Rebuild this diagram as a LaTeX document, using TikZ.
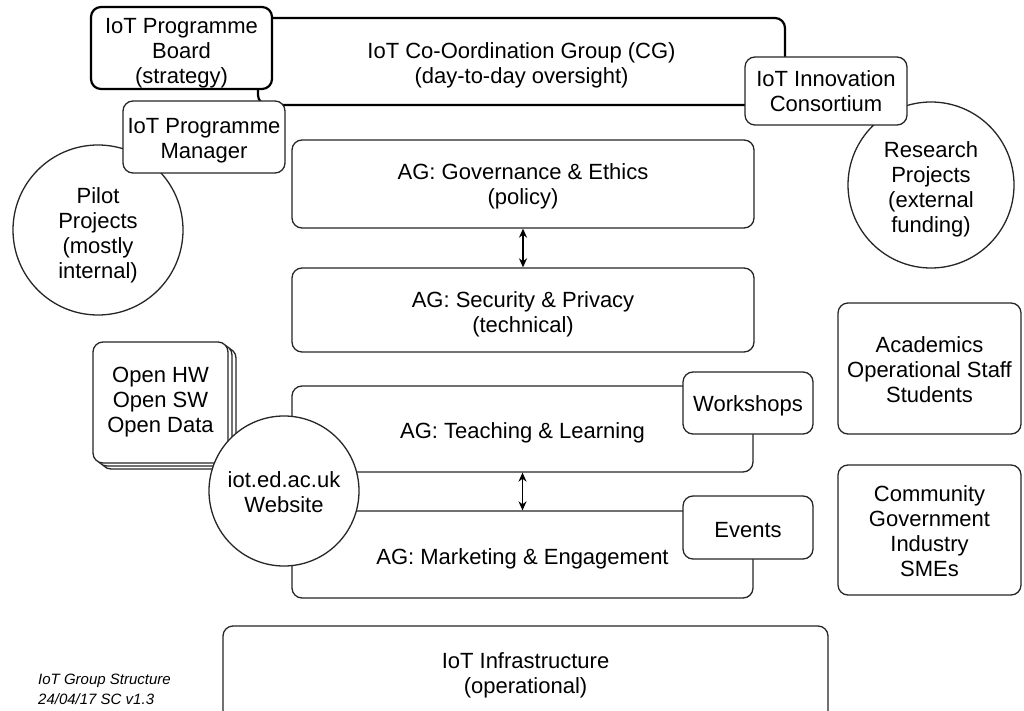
\documentclass[tikz,border=0pt]{standalone}
\usepackage{fontspec}
\setmainfont{Liberation Sans}
\usetikzlibrary{arrows.meta}
\newcommand{\tdown}[1]{\rule{0pt}{#1}}
\begin{document}
\begin{tikzpicture}[x=1pt,y=-1pt,
 box/.style={draw=black!85, fill=white, line width=1.3pt, rounded corners=10pt, align=center, inner sep=0pt, font=\fontsize{22}{25}\selectfont},
 thickbox/.style={box, line width=2.2pt, draw=black},
 circ/.style={draw=black!85, fill=white, line width=1.3pt, circle, align=center, inner sep=0pt, font=\fontsize{22}{25}\selectfont},
 dbl/.style={{Stealth[length=9pt,width=8pt]}-{Stealth[length=9pt,width=8pt]}, line width=1.5pt},
 note/.style={font=\fontsize{15}{20}\selectfont\itshape, align=left, anchor=west, inner sep=0pt}
]
\useasboundingbox[fill=white] (0,0) rectangle (1024,711);
\clip (0,0) rectangle (1024,711);

% top group
\node[thickbox, minimum width=527pt, minimum height=87pt] (cg) at (521.5,61.5) {\tdown{24pt}IoT Co-Oordination Group (CG)\\(day-to-day oversight)};
\node[thickbox, minimum width=181pt, minimum height=82pt] (board) at (181.5,48) {\tdown{25pt}IoT Programme\\Board\\(strategy)};
\node[circ, minimum size=170pt] (pilot) at (98,230) {\tdown{26pt}Pilot\\Projects\\(mostly\\internal)};
\node[box, minimum width=162pt, minimum height=72pt] (mgr) at (204,137) {\tdown{23pt}IoT Programme\\Manager};
\node[circ, minimum size=166pt] (research) at (931,185) {\tdown{24pt}Research\\Projects\\(external\\funding)};
\node[box, minimum width=162pt, minimum height=68pt] (innov) at (826,91) {IoT Innovation\\Consortium};

% advisory groups
\node[box, minimum width=462pt, minimum height=88pt] (gov) at (523,184) {\tdown{20pt}AG: Governance \& Ethics\\(policy)};
\node[box, minimum width=462pt, minimum height=84pt] (sec) at (523,310) {\tdown{24pt}AG: Security \& Privacy\\(technical)};
\node[box, minimum width=461pt, minimum height=86pt] (teach) at (522.5,429) {\tdown{24pt}AG: Teaching \& Learning};
\node[box, minimum width=461pt, minimum height=87pt] (mark) at (522.5,554.5) {\tdown{25pt}AG: Marketing \& Engagement};
\node[box, minimum width=130pt, minimum height=62pt] (work) at (748,403) {\tdown{22pt}Workshops};
\node[box, minimum width=130pt, minimum height=63pt] (events) at (748,527.5) {\tdown{20pt}Events};

\draw[dbl] (gov) -- (sec);
\draw[dbl] (teach) -- (mark);

% open stack
\node[box, minimum width=135pt, minimum height=121pt] (stack2) at (168.5,408.5) {};
\node[box, minimum width=135pt, minimum height=121pt] (stack1) at (164.5,405.5) {};
\node[box, minimum width=135pt, minimum height=121pt] (stack) at (160.5,402.5) {Open HW\\Open SW\\Open Data};
\node[circ, minimum size=150pt] (web) at (284,491) {\tdown{19pt}iot.ed.ac.uk\\Website};

% right side
\node[box, minimum width=183pt, minimum height=131pt] (acad) at (929.5,368.5) {\tdown{18pt}Academics\\Operational Staff\\Students};
\node[box, minimum width=183pt, minimum height=130pt] (comm) at (929.5,530) {\tdown{18pt}Community\\Government\\Industry\\SMEs};

% infrastructure (runs past the lower edge)
\node[box, minimum width=605pt, minimum height=98pt] (infra) at (525.5,675) {IoT Infrastructure\\(operational)};

\node[note] (foot) at (38,689) {IoT Group Structure\\24/04/17 SC v1.3};
\end{tikzpicture}
\end{document}
